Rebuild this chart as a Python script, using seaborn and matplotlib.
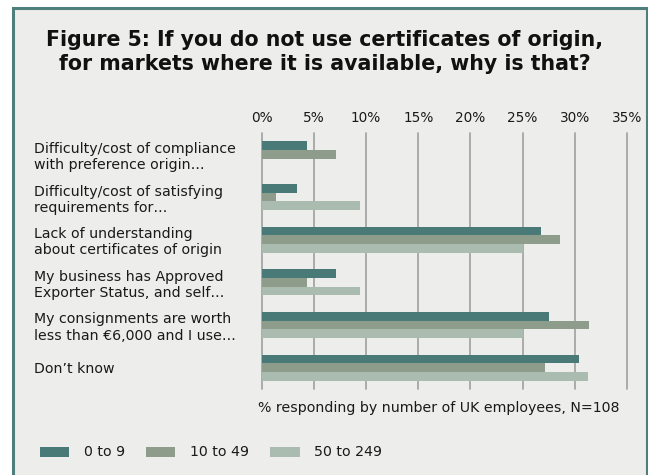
import matplotlib
matplotlib.use("Agg")
import matplotlib.pyplot as plt
from matplotlib.patches import Rectangle, Patch
import seaborn as sns
import pandas as pd

# Survey answers (y categories)
reasons = [
    "Difficulty/cost of compliance\nwith preference origin…",
    "Difficulty/cost of satisfying\nrequirements for…",
    "Lack of understanding\nabout certificates of origin",
    "My business has Approved\nExporter Status, and self…",
    "My consignments are worth\nless than €6,000 and I use…",
    "Don’t know",
]
size_bands = ["0 to 9", "10 to 49", "50 to 249"]

# % responding, one list per company size band
pct_0_9 = [4.3, 3.4, 26.8, 7.1, 27.5, 30.4]
pct_10_49 = [7.1, 1.4, 28.6, 4.3, 31.4, 27.1]
pct_50_249 = [0.0, 9.4, 25.0, 9.4, 25.0, 31.3]

x_ticks = [0, 5, 10, 15, 20, 25, 30, 35]
x_ticklabels = ["0%", "5%", "10%", "15%", "20%", "25%", "30%", "35%"]

title = ("Figure 5: If you do not use certificates of origin,\n"
         "for markets where it is available, why is that?")
note = "% responding by number of UK employees, N=108"

colors = ["#4a7a77", "#8e9c8b", "#aabbaf"]
bg = "#ededeb"
frame = "#4e7f7c"
grid_c = "#a6a6a6"

df = pd.DataFrame({
    "reason": reasons * 3,
    "band": sum([[b] * len(reasons) for b in size_bands], []),
    "pct": pct_0_9 + pct_10_49 + pct_50_249,
})

sns.set_theme(style="white")
plt.rcParams["font.family"] = ["DejaVu Sans"]

W, H = 648, 475
fig = plt.figure(figsize=(W / 100, H / 100), dpi=100)
fig.patch.set_facecolor("white")

# framed panel behind everything
fig.patches.append(Rectangle((12.5 / W, -0.05), (646.5 - 12.5) / W, 1 - 8 / H + 0.05,
                             transform=fig.transFigure, facecolor=bg,
                             edgecolor=frame, lw=2.2, zorder=-10))

ax_l, ax_r, ax_t, ax_b = 261.7, 627.0, 133.0, 389.0
ax = fig.add_axes([ax_l / W, 1 - ax_b / H, (ax_r - ax_l) / W, (ax_b - ax_t) / H])
ax.set_zorder(1)
ax.set_facecolor("none")

sns.barplot(data=df, y="reason", x="pct", hue="band", order=reasons,
            hue_order=size_bands, palette=colors, orient="h", width=0.61,
            saturation=1, legend=False, linewidth=0, ax=ax)

ax.set_xlim(0, 35)
ax.set_ylim(5.5, -0.5)
ax.set_xticks(x_ticks)
ax.set_xticklabels(x_ticklabels)
ax.xaxis.tick_top()
ax.tick_params(axis="x", length=0, pad=6, labelsize=9.8, colors="#1a1a1a")
ax.tick_params(axis="y", length=0, pad=(ax_l - 34) * 0.72, labelsize=10.2,
               colors="#1a1a1a")
for lab in ax.get_yticklabels():
    lab.set_horizontalalignment("left")
    lab.set_multialignment("left")
ax.set_xlabel("")
ax.set_ylabel("")
for s in ax.spines.values():
    s.set_visible(False)
ax.grid(axis="x", color=grid_c, lw=1.3)
ax.grid(axis="y", visible=False)
ax.set_axisbelow(True)
for gl in ax.xaxis.get_gridlines():
    gl.set_clip_on(False)

fig.text(325 / W, 1 - 30 / H, title, ha="center", va="top",
         fontsize=14.8, fontweight="bold", linespacing=1.25,
         color="#111111", zorder=2)

fig.text(258 / W, 1 - 408 / H, note, ha="left", va="center",
         fontsize=10.2, color="#1a1a1a", zorder=2)

handles = [Patch(facecolor=c, edgecolor="none") for c in colors]
leg = fig.legend(handles, size_bands, ncol=3, frameon=False, loc="center left",
                 bbox_to_anchor=(40 / W, 1 - 452.5 / H), borderpad=0,
                 borderaxespad=0, handlelength=2.05, handleheight=0.7,
                 handletextpad=1.05, columnspacing=1.5, fontsize=10.2,
                 labelcolor="#1a1a1a")
leg.set_zorder(2)

fig.savefig("out.png", dpi=100, facecolor="white")
